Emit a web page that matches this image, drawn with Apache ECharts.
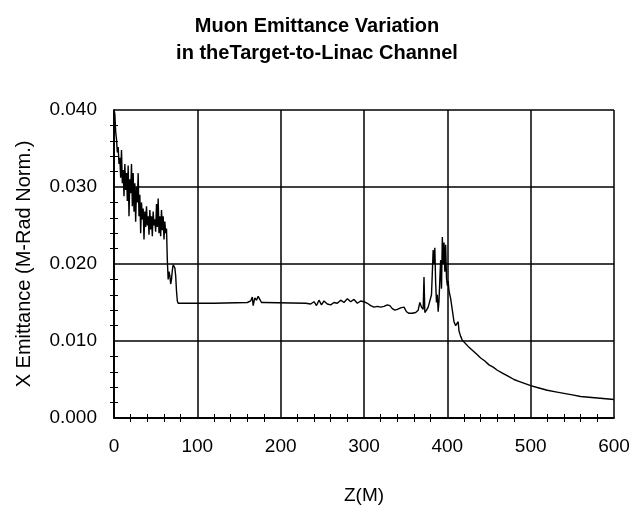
<!DOCTYPE html>
<html>
<head>
<meta charset="utf-8">
<script src="https://cdn.jsdelivr.net/npm/echarts@6/dist/echarts.min.js"></script>
<style>
  html, body { margin: 0; padding: 0; background: #fff; }
  #chart { width: 634px; height: 519px; }
</style>
</head>
<body>
<div id="chart"></div>
<script>
// Z position along the channel (m)
const zPositions = [
  0, 1, 2, 3, 4, 5, 6, 7, 8, 9,
  10, 11, 12, 13, 14, 15, 16, 17, 18, 19,
  20, 21, 22, 23, 24, 25, 26, 27, 28, 29,
  30, 31, 32, 33, 34, 35, 36, 37, 38, 39,
  40, 41, 42, 43, 44, 45, 46, 47, 48, 49,
  50, 51, 52, 53, 54, 55, 56, 57, 58, 59,
  60, 61, 62, 63, 64, 65, 66, 67, 68, 69,
  70, 71, 72, 73, 74, 75, 76, 77,
  100, 120, 122, 160, 164, 166, 167, 169, 171, 173, 175, 177, 180,
  230, 236, 240, 243, 246, 249, 252, 256, 260, 264, 268, 272, 276,
  280, 284, 288, 292, 296, 300, 304, 308, 312, 316, 320, 324, 328,
  331, 334, 337, 340, 344, 348, 351, 354, 358, 362, 365, 367, 369,
  371, 372, 373, 375, 377, 379, 381, 383, 384, 385, 386, 387, 388,
  389, 390, 391, 392, 393, 394, 395, 396, 397, 398, 399, 400, 401,
  402, 404, 406, 408, 410, 412, 413, 414, 416, 418, 420, 425, 430,
  435, 440, 445, 450, 455, 460, 465, 470, 475, 480, 485, 490, 495,
  500, 510, 520, 530, 540, 550, 560, 570, 580, 590, 600
];

// X emittance (m-rad normalised)
const emittance = [
  0.0400, 0.0395, 0.0372, 0.0362, 0.0345, 0.0352, 0.0330, 0.0338, 0.0312, 0.0348,
  0.0305, 0.0322, 0.0288, 0.0330, 0.0296, 0.0318, 0.0282, 0.0328, 0.0262, 0.0310,
  0.0292, 0.0330, 0.0275, 0.0318, 0.0268, 0.0305, 0.0255, 0.0300, 0.0280, 0.0318,
  0.0262, 0.0290, 0.0240, 0.0280, 0.0258, 0.0272, 0.0232, 0.0268, 0.0248, 0.0275,
  0.0250, 0.0262, 0.0238, 0.0270, 0.0245, 0.0262, 0.0236, 0.0268, 0.0250, 0.0258,
  0.0242, 0.0278, 0.0248, 0.0285, 0.0240, 0.0262, 0.0236, 0.0270, 0.0244, 0.0262,
  0.0232, 0.0255, 0.0240, 0.0246, 0.0205, 0.0180, 0.0190, 0.0185, 0.0174, 0.0180,
  0.0192, 0.0199, 0.0200, 0.0195, 0.0185, 0.0165, 0.0152, 0.0149,
  0.0149, 0.0149, 0.0150, 0.0150, 0.0152, 0.0157, 0.0146, 0.0156, 0.0153, 0.0158, 0.0154, 0.0150, 0.0150,
  0.0149, 0.0148, 0.0151, 0.0146, 0.0153, 0.0147, 0.0152, 0.0148, 0.0147, 0.0150, 0.0149, 0.0153, 0.0150,
  0.0155, 0.0151, 0.0154, 0.0149, 0.0152, 0.0151, 0.0149, 0.0146, 0.0144, 0.0145, 0.0144, 0.0145, 0.0147,
  0.0146, 0.0142, 0.0140, 0.0141, 0.0143, 0.0144, 0.0138, 0.0136, 0.0136, 0.0137, 0.0140, 0.0150, 0.0144,
  0.0141, 0.0183, 0.0137, 0.0140, 0.0144, 0.0146, 0.0160, 0.0218, 0.0200, 0.0221, 0.0175, 0.0150, 0.0160,
  0.0138, 0.0152, 0.0180, 0.0205, 0.0168, 0.0235, 0.0200, 0.0228, 0.0190, 0.0225, 0.0182, 0.0172, 0.0178,
  0.0165, 0.0155, 0.0140, 0.0125, 0.0120, 0.0118, 0.0125, 0.0113, 0.0106, 0.0101, 0.0099, 0.0093, 0.0088,
  0.0083, 0.0078, 0.0074, 0.0069, 0.0066, 0.0062, 0.0059, 0.0056, 0.0053, 0.0050, 0.0048, 0.0046, 0.0044,
  0.0042, 0.0039, 0.0036, 0.0034, 0.0032, 0.0030, 0.0028, 0.0027, 0.0026, 0.0025, 0.0024
];

const zRange = [0, 600];
const emittanceRange = [0, 0.04];

const chart = echarts.init(document.getElementById('chart'));
const font = "'Liberation Sans', Arial, sans-serif";

// 图框上边和右边也带内向小刻度
const frameAxis = (pos, range, step) => ({
  type: 'value',
  position: pos,
  min: range[0],
  max: range[1],
  interval: step,
  axisLine: { show: true, lineStyle: { color: '#000', width: 1.5 } },
  axisTick: { show: false, inside: true },
  minorTick: { show: true, splitNumber: 5, length: 4, lineStyle: { color: '#000', width: 1 } },
  axisLabel: { show: false },
  splitLine: { show: false }
});

chart.setOption({
  animation: false,
  backgroundColor: '#fff',
  title: {
    text: 'Muon Emittance Variation\nin theTarget-to-Linac Channel',
    left: 'center',
    top: 8,
    textStyle: { fontFamily: font, fontSize: 20, fontWeight: 'bold', color: '#000', lineHeight: 27 }
  },
  grid: { left: 114, right: 20, top: 110, bottom: 101 },
  xAxis: [
    {
      type: 'value',
      min: zRange[0],
      max: zRange[1],
      interval: 100,
      name: 'Z(M)',
      nameLocation: 'middle',
      nameGap: 68,
      nameTextStyle: { fontFamily: font, fontSize: 19, color: '#000' },
      axisLine: { show: true, lineStyle: { color: '#000', width: 1.5 } },
      axisTick: { show: false, inside: true },
      minorTick: { show: true, splitNumber: 5, length: 4, lineStyle: { color: '#000', width: 1 } },
      axisLabel: { fontFamily: font, fontSize: 19, color: '#000', margin: 19 },
      splitLine: { show: true, lineStyle: { color: '#000', width: 1.5 } }
    },
    frameAxis('top', zRange, 100)
  ],
  yAxis: [
    {
      type: 'value',
      min: emittanceRange[0],
      max: emittanceRange[1],
      interval: 0.01,
      name: 'X Emittance (M-Rad Norm.)',
      nameLocation: 'middle',
      nameGap: 80,
      nameTextStyle: { fontFamily: font, fontSize: 20, color: '#000' },
      axisLine: { show: true, lineStyle: { color: '#000', width: 1.5 } },
      axisTick: { show: false, inside: true },
      minorTick: { show: true, splitNumber: 5, length: 4, lineStyle: { color: '#000', width: 1 } },
      axisLabel: {
        fontFamily: font, fontSize: 19, color: '#000', margin: 17,
        formatter: v => v.toFixed(3)
      },
      splitLine: { show: true, lineStyle: { color: '#000', width: 1.5 } }
    },
    frameAxis('right', emittanceRange, 0.01)
  ],
  series: [{
    type: 'line',
    data: zPositions.map((z, i) => [z, emittance[i]]),
    showSymbol: false,
    lineStyle: { color: '#000', width: 1.4 }
  }]
});
</script>
</body>
</html>
